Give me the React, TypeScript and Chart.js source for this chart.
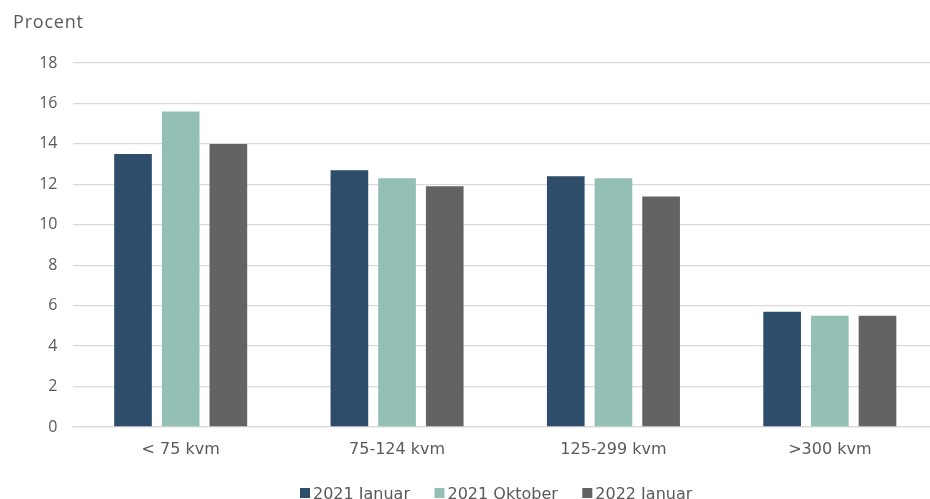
import React, { useEffect, useRef } from "react";
import { Chart, registerables } from "chart.js";

Chart.register(...registerables);

const categories = ["< 75 kvm", "75-124 kvm", "125-299 kvm", ">300 kvm"];
const seriesLabels = ["2021 Januar", "2021 Oktober", "2022 Januar"];
const jan2021 = [13.5, 12.7, 12.4, 5.7];
const okt2021 = [15.6, 12.3, 12.3, 5.5];
const jan2022 = [14.0, 11.9, 11.4, 5.5];
const yTitle = "Procent";

const colors = ["#2D4D6A", "#94BFB5", "#636363"];
const textColor = "#595959";

const overlayPlugin = {
  id: "overlayText",
  afterDraw(chart: any) {
    const ctx = chart.ctx;
    ctx.save();
    // axis title
    ctx.fillStyle = textColor;
    ctx.font = "18px 'Open Sans'";
    ctx.textBaseline = "alphabetic";
    ctx.textAlign = "left";
    try {
      (ctx as any).letterSpacing = "0.8px";
    } catch (e) {}
    ctx.fillText(yTitle, 13, 28);
    try {
      (ctx as any).letterSpacing = "0px";
    } catch (e) {}
    // legend
    ctx.font = "16px 'DejaVu Sans'";
    let x = 300;
    const items = chart.data.datasets;
    items.forEach((ds: any) => {
      ctx.fillStyle = ds.backgroundColor;
      ctx.fillRect(x, 488, 10, 10);
      ctx.fillStyle = textColor;
      ctx.fillText(ds.label, x + 13, 498.5);
      x += 13 + ctx.measureText(ds.label).width + 24.5;
    });
    ctx.restore();
  },
};

export default function App() {
  const ref = useRef<HTMLCanvasElement | null>(null);
  useEffect(() => {
    if (!ref.current) return;
    const chart = new Chart(ref.current, {
      type: "bar",
      data: {
        labels: categories,
        datasets: [
          { label: seriesLabels[0], data: jan2021, backgroundColor: colors[0] },
          { label: seriesLabels[1], data: okt2021, backgroundColor: colors[1] },
          { label: seriesLabels[2], data: jan2022, backgroundColor: colors[2] },
        ],
      },
      options: {
        animation: false,
        responsive: false,
        maintainAspectRatio: false,
        layout: { padding: { top: 63, bottom: 0, left: 0, right: 0 } },
        datasets: { bar: { categoryPercentage: 0.661, barPercentage: 0.79 } },
        plugins: {
          legend: { display: false },
          title: { display: false },
          tooltip: { enabled: false },
        },
        scales: {
          x: {
            grid: { display: false, drawTicks: false },
            border: { display: true, color: "#D9D9D9", width: 1.3 },
            ticks: {
              color: textColor,
              font: { family: "'DejaVu Sans'", size: 16 },
              padding: 13,
              maxRotation: 0,
            },
            afterFit(scale: any) {
              scale.height = 72;
            },
          },
          y: {
            min: 0,
            max: 18,
            ticks: {
              stepSize: 2,
              color: textColor,
              font: { family: "'Open Sans'", size: 16 },
              padding: 15,
            },
            grid: { color: "#D9D9D9", lineWidth: 1.3, drawTicks: false },
            border: { display: false },
            afterFit(scale: any) {
              scale.width = 72.5;
            },
          },
        },
      },
      plugins: [overlayPlugin],
    });
    return () => chart.destroy();
  }, []);
  return (
    <div
      style={{
        position: "fixed",
        left: 0,
        top: 0,
        width: 930,
        height: 499,
        overflow: "hidden",
        background: "#fff",
      }}
    >
      <canvas ref={ref} width={938} height={499} style={{ display: "block" }} />
    </div>
  );
}
